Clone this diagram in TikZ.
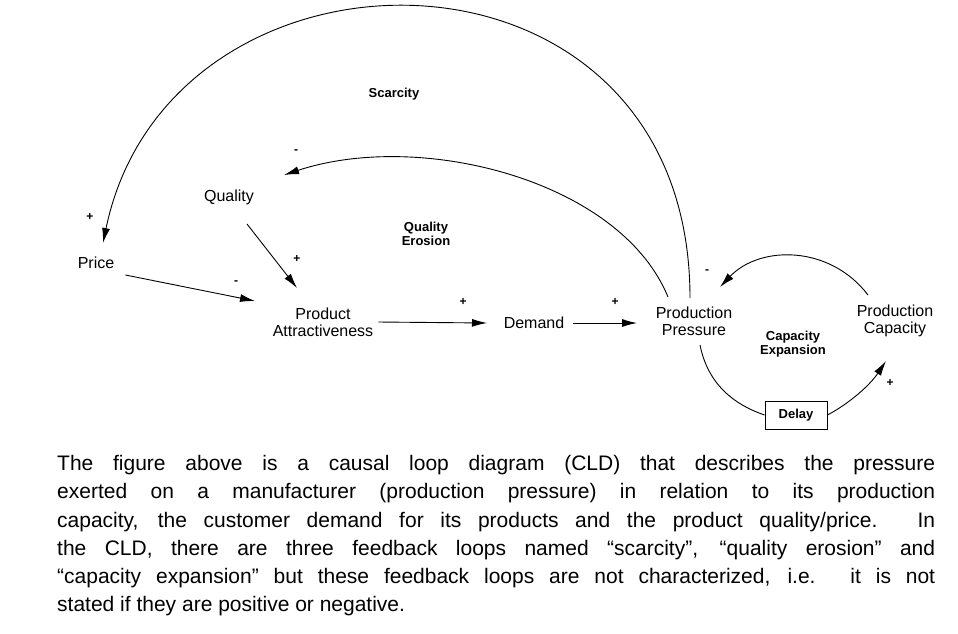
\documentclass[tikz,border=0pt]{standalone}
\usepackage{fontspec}
\setmainfont{Liberation Sans}
\usetikzlibrary{arrows.meta}
\begin{document}
\begin{tikzpicture}[x=1pt,y=-1pt,
  lbl/.style={font=\fontsize{16}{17}\selectfont, align=center, inner sep=1pt},
  loop/.style={font=\bfseries\fontsize{13}{14}\selectfont, align=center, inner sep=1pt},
  sgn/.style={font=\bfseries\fontsize{12}{12}\selectfont, inner sep=0pt},
  arr/.style={line width=0.9pt, -{Latex[length=15pt,width=8pt]}},
  ln/.style={line width=0.9pt}]
\useasboundingbox (0,0) rectangle (958,633);
\fill[white] (0,0) rectangle (958,633);
\node[lbl] (price) at (96,263) {Price};
\node[lbl] (quality) at (229,197) {Quality};
\node[lbl] (attr) at (323,322) {Product\\Attractiveness};
\node[lbl] (demand) at (534,323) {Demand};
\node[lbl] (press) at (694,321) {Production\\Pressure};
\node[lbl] (cap) at (895,321) {Production\\Capacity};
\node[draw, line width=0.9pt, minimum width=62pt, minimum height=28pt, font=\bfseries\fontsize{13}{14}\selectfont] (delay) at (796,415) {Delay};
\node[loop] (scar) at (394,94) {Scarcity};
\node[loop] (qe) at (426,234) {Quality\\Erosion};
\node[loop] (ce) at (793,344) {Capacity\\Expansion};
\coordinate (pt1) at (690,298);
\coordinate (pt2) at (668,297);
\coordinate (pb) at (700,345);
\coordinate (ct) at (868,295);
\draw[arr] (pt1) .. controls (690,-80) and (170,-80) .. (103,243);
\draw[arr] (pt2) .. controls (620,180) and (420,130) .. (284,175);
\draw[arr] (price.east)+(10,12) -- (255,301);
\draw[arr] (247,224) -- (297,288);
\draw[arr] (attr.east) ++(4,0) -- (487,323);
\draw[arr] (demand.east) ++(8,0) -- (637,323);
\draw[arr] (ct) .. controls (830,245) and (760,245) .. (720,287);
\draw[ln] (pb) .. controls (708,385) and (735,405) .. (delay.west);
\draw[arr] (delay.east) .. controls (850,403) and (870,385) .. (886,361);
\node[sgn] at (90,217) {+};
\node[sgn] at (296,152) {-};
\node[sgn] at (297,259) {+};
\node[sgn] at (236,283) {-};
\node[sgn] at (463,302) {+};
\node[sgn] at (615,302) {+};
\node[sgn] at (707,272) {-};
\node[sgn] at (890,383) {+};
\node[anchor=north west, inner sep=0pt, text width=878pt, align=justify,
  font=\fontsize{21}{28.3}\selectfont] (para) at (57,455) {The figure above is a causal loop diagram (CLD) that describes the pressure\linebreak exerted on a manufacturer (production pressure) in relation to its production\linebreak capacity, the customer demand for its products and the product quality/price. In\linebreak the CLD, there are three feedback loops named “scarcity”, “quality erosion” and\linebreak “capacity expansion” but these feedback loops are not characterized, i.e. it is not\linebreak stated if they are positive or negative.};
\end{tikzpicture}
\end{document}
